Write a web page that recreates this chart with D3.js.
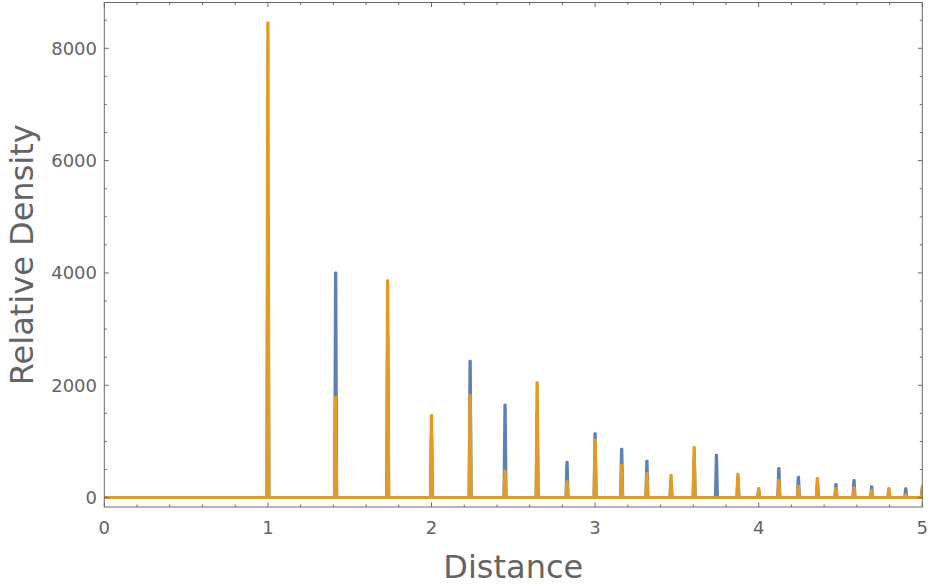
<!DOCTYPE html>
<html>
<head>
<meta charset="utf-8">
<script src="https://cdn.jsdelivr.net/npm/d3@7"></script>
<style>
  html, body { margin: 0; padding: 0; background: #ffffff; }
  svg { display: block; }
</style>
</head>
<body>
<svg id="chart" width="930" height="586"></svg>
<script>
// ---- data ----
const peakDistance = [1, 1.4142, 1.7321, 2, 2.2361, 2.4495, 2.6458, 2.8284, 3, 3.1623,
  3.3166, 3.4641, 3.6056, 3.7417, 3.873, 4, 4.1231, 4.2426, 4.3589, 4.4721,
  4.5826, 4.6904, 4.7958, 4.899, 5];
const blueDensity = [4940, 4000, 2900, 1100, 2430, 1650, 1500, 634, 1140, 865,
  652, 300, 700, 758, 330, 120, 521, 367, 250, 236,
  307, 195, 110, 159, 150];
const orangeDensity = [8455, 1786, 3862, 1465, 1821, 474, 2046, 283, 1030, 580,
  432, 397, 895, 10, 420, 165, 313, 206, 343, 165,
  177, 135, 165, 52, 195];
const xTicks = [0, 1, 2, 3, 4, 5];
const yTicks = [0, 2000, 4000, 6000, 8000];
const xLabel = "Distance";
const yLabel = "Relative Density";
const distanceRange = [0, 5];
const peakHalfWidth = 0.0075;
const peakTopHalfWidth = 0.002;

// ---- layout ----
const svg = d3.select("#chart");
const L = 104.3, R = 922.3, T = 2.5, B = 507;
const x = d3.scaleLinear().domain(distanceRange).range([L, R]);
const y = d3.scaleLinear().domain([0, 8000]).range([497.6, 48.3]);

const textColor = "#646464";
const frameColor = "#6b6b6b";
const font = "DejaVu Sans, sans-serif";

// build each series' polyline from its peaks
function seriesPoints(values) {
  const pts = [[distanceRange[0], 0]];
  peakDistance.forEach((d, i) => {
    pts.push([d - peakHalfWidth, 0], [d - peakTopHalfWidth, values[i]],
             [d + peakTopHalfWidth, values[i]], [d + peakHalfWidth, 0]);
  });
  pts.push([distanceRange[1] + 0.05, 0]);
  return pts;
}

svg.append("defs").append("clipPath").attr("id", "clip")
  .append("rect").attr("x", L).attr("y", T).attr("width", R - L).attr("height", B - T);

const line = d3.line().x(d => x(d[0])).y(d => y(d[1]));
const g = svg.append("g").attr("clip-path", "url(#clip)");
g.append("path").datum(seriesPoints(blueDensity))
  .attr("d", line).attr("fill", "none").attr("stroke", "#5e81b5")
  .attr("stroke-width", 2.7).attr("stroke-linejoin", "round").attr("stroke-linecap", "round");
g.append("path").datum(seriesPoints(orangeDensity))
  .attr("d", line).attr("fill", "none").attr("stroke", "#e19c24")
  .attr("stroke-width", 2.7).attr("stroke-linejoin", "round").attr("stroke-linecap", "round");

// ---- frame ----
svg.append("rect").attr("x", L).attr("y", T).attr("width", R - L).attr("height", B - T)
  .attr("fill", "none").attr("stroke", frameColor).attr("stroke-width", 1);

// ---- ticks (inward, all four sides) ----
const ticksG = svg.append("g").attr("stroke", frameColor).attr("stroke-width", 1);
const xMinor = d3.range(0, 5.0001, 0.2);
xMinor.forEach(v => {
  const major = Math.abs(v - Math.round(v)) < 1e-6;
  const len = major ? 4.5 : 2.5;
  const px = x(v);
  ticksG.append("line").attr("x1", px).attr("x2", px).attr("y1", B).attr("y2", B - len);
  ticksG.append("line").attr("x1", px).attr("x2", px).attr("y1", T).attr("y2", T + len);
});
const yMinor = d3.range(0, 8800, 500);
yMinor.forEach(v => {
  const major = v % 2000 === 0;
  const len = major ? 4.5 : 2.5;
  const py = y(v);
  ticksG.append("line").attr("x1", L).attr("x2", L + len).attr("y1", py).attr("y2", py);
  ticksG.append("line").attr("x1", R).attr("x2", R - len).attr("y1", py).attr("y2", py);
});

// ---- tick labels ----
svg.append("g").selectAll("text").data(xTicks).join("text")
  .attr("x", d => x(d)).attr("y", 534)
  .attr("text-anchor", "middle")
  .attr("font-family", font).attr("font-size", 18).attr("fill", textColor)
  .text(d => d);
svg.append("g").selectAll("text").data(yTicks).join("text")
  .attr("x", 97).attr("y", d => y(d) + 6.5)
  .attr("text-anchor", "end")
  .attr("font-family", font).attr("font-size", 18).attr("fill", textColor)
  .text(d => d);

// ---- axis titles ----
svg.append("text").attr("x", (L + R) / 2).attr("y", 578)
  .attr("text-anchor", "middle")
  .attr("font-family", font).attr("font-size", 32).attr("fill", textColor)
  .text(xLabel);
svg.append("text")
  .attr("transform", `translate(33, ${(T + B) / 2}) rotate(-90)`)
  .attr("text-anchor", "middle")
  .attr("font-family", font).attr("font-size", 32).attr("fill", textColor)
  .text(yLabel);
</script>
</body>
</html>
